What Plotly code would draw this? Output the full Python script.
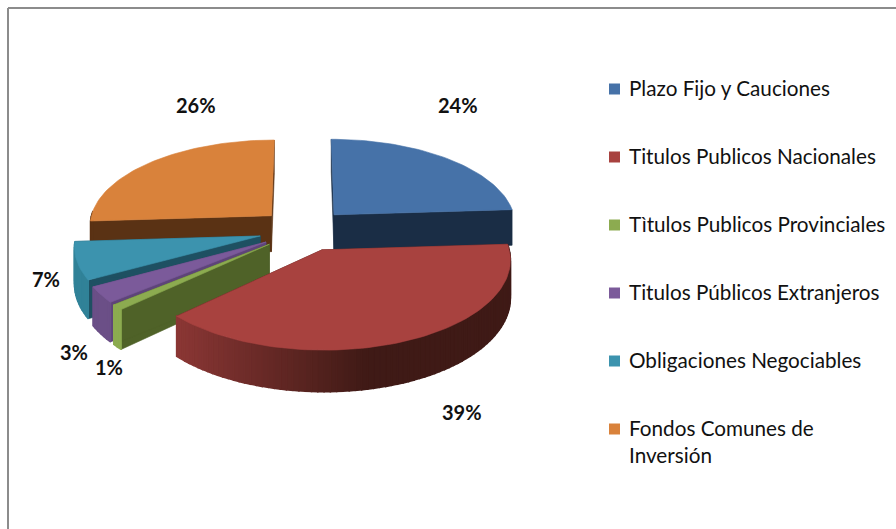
import math
import plotly.graph_objects as go

categories = ["Plazo Fijo y Cauciones", "Titulos Publicos Nacionales", "Tìtulos Publicos Provinciales",
              "Titulos Públicos Extranjeros", "Obligaciones Negociables", "Fondos Comunes de<br>Inversión"]
values = [24, 39, 1, 3, 7, 26]
top_colors = ["#4672a8", "#a8423f", "#8cab50", "#7b5a9a", "#3c93ae", "#d9823b"]
face_colors = ["#1a2d45", "#4a1c18", "#4f6228", "#5e4479", "#1e5062", "#5a3214"]
rim_colors = ["#1a2d45", None, "#8cab50", "#6b4f87", "#318298", "#5a3214"]
label_texts = ["24%", "39%", "1%", "3%", "7%", "26%"]
label_pos = [(458, 105), (462, 412), (109, 367), (74, 352), (46, 279), (196, 105)]
legend_marker_y = [89, 157, 225, 293, 361, 429]
legend_text_y = [88, 156, 224, 292, 360, 441]
draw_order = [5, 0, 4, 3, 2, 1]

CX, CY, R, TILT, PERSP, EXPLODE, DEPTH = 303.7, 230, 183, 0.47, 0.10, 45, 36.5


def proj(X, Y, z=0.0):
    s = 1 / (1 - PERSP * Y / R)
    return CX + X * s, CY + Y * TILT * s + z * s


def rim(theta, ox, oy, z=0.0):
    return proj(ox + R * math.sin(theta), oy - R * math.cos(theta), z)


def poly(fig, pts, color, width=0.6):
    xs = [p[0] for p in pts] + [pts[0][0]]
    ys = [p[1] for p in pts] + [pts[0][1]]
    fig.add_trace(go.Scatter(x=xs, y=ys, mode="lines", fill="toself", fillcolor=color,
                             line=dict(color=color, width=width), hoverinfo="skip", showlegend=False))


def mix(a, b, f):
    pa = [int(a[i:i + 2], 16) for i in (1, 3, 5)]
    pb = [int(b[i:i + 2], 16) for i in (1, 3, 5)]
    return "#%02x%02x%02x" % tuple(round(u + (v - u) * f) for u, v in zip(pa, pb))


def red_shade(x):
    f = min(max((x - 175) / 195, 0), 1)
    return mix("#8c3735", "#3f1a16", f)


fig = go.Figure()
total = sum(values)
starts = [sum(values[:i]) / total * 2 * math.pi for i in range(len(values))]

for i in draw_order:
    a0 = starts[i]
    a1 = a0 + values[i] / total * 2 * math.pi
    mid = (a0 + a1) / 2
    ox, oy = EXPLODE * math.sin(mid), -EXPLODE * math.cos(mid)
    apex = proj(ox, oy)
    apexb = proj(ox, oy, DEPTH)
    n = max(int((a1 - a0) / 0.03), 2)
    angles = [a0 + (a1 - a0) * j / n for j in range(n + 1)]
    for a in (a0, a1):
        poly(fig, [apex, rim(a, ox, oy), rim(a, ox, oy, DEPTH), apexb], face_colors[i])
    for j in range(n):
        u, v = angles[j], angles[j + 1]
        if math.cos((u + v) / 2) < 0.05:
            p = [rim(u, ox, oy), rim(v, ox, oy), rim(v, ox, oy, DEPTH), rim(u, ox, oy, DEPTH)]
            c = rim_colors[i] or red_shade(p[0][0])
            poly(fig, p, c, 1.5)
    poly(fig, [apex] + [rim(a, ox, oy) for a in angles], top_colors[i])

fig.add_trace(go.Scatter(x=[614.5] * len(categories), y=legend_marker_y, mode="markers", hoverinfo="skip",
                         showlegend=False, marker=dict(symbol="square", size=11, color=top_colors)))
for cat, y in zip(categories, legend_text_y):
    fig.add_annotation(x=627, y=y, text=cat, showarrow=False, xref="x", yref="y", xanchor="left", align="left",
                       font=dict(family="Lato", size=20.7, color="#111111"))

for t, (x, y) in zip(label_texts, label_pos):
    fig.add_annotation(x=x, y=y, text="<b>%s</b>" % t, showarrow=False, xref="x", yref="y",
                       font=dict(family="Lato", size=20, color="#111111"))

fig.add_shape(type="line", x0=8, x1=8, y0=8, y1=529, xref="x", yref="y", line=dict(color="#8c8c8c", width=2))
fig.add_shape(type="line", x0=8, x1=896, y0=8, y1=8, xref="x", yref="y", line=dict(color="#8c8c8c", width=2))

fig.update_layout(
    width=896, height=529, margin=dict(l=0, r=0, t=0, b=0), paper_bgcolor="white", plot_bgcolor="white",
    showlegend=False,
    xaxis=dict(range=[0, 896], visible=False, domain=[0, 1]),
    yaxis=dict(range=[529, 0], visible=False, domain=[0, 1]),
)
fig.write_html("out.html", config={"displayModeBar": False},
               post_script="document.body.style.margin='0';document.body.style.overflow='hidden';")
